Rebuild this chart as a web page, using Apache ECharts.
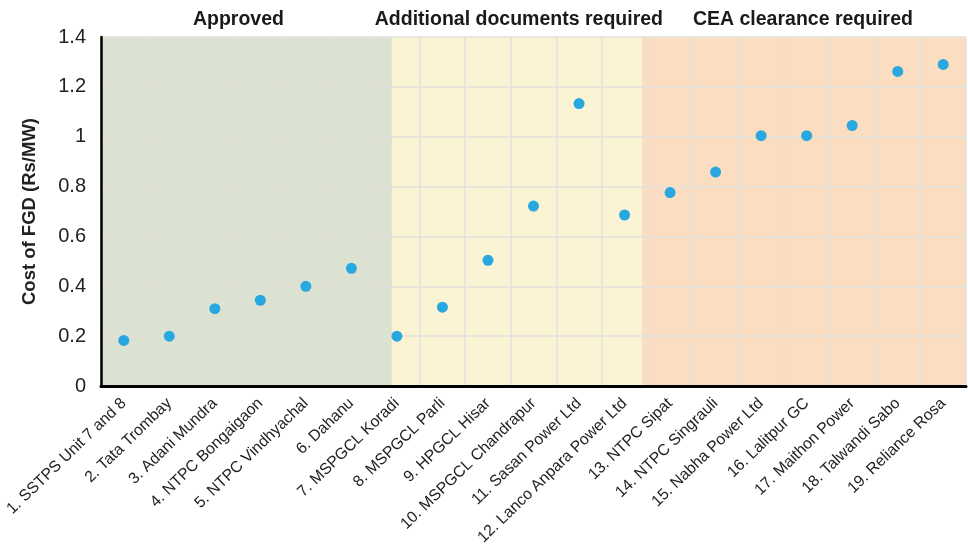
<!DOCTYPE html>
<html>
<head>
<meta charset="utf-8">
<script src="https://cdn.jsdelivr.net/npm/echarts@6/dist/echarts.min.js"></script>
<style>html,body{margin:0;padding:0;background:#fff}#c{width:968px;height:558px}</style>
</head>
<body>
<div id="c"></div>
<script>
const categories = ['1. SSTPS Unit 7 and 8','2. Tata Trombay','3. Adani Mundra','4. NTPC Bongaigaon','5. NTPC Vindhyachal','6. Dahanu','7. MSPGCL Koradi','8. MSPGCL Parli','9. HPGCL Hisar','10. MSPGCL Chandrapur','11. Sasan Power Ltd','12. Lanco Anpara Power Ltd','13. NTPC Sipat','14. NTPC Singrauli','15. Nabha Power Ltd','16. Lalitpur GC','17. Maithon Power','18. Talwandi Sabo','19. Reliance Rosa'];
const costValues = [0.183,0.2,0.31,0.344,0.4,0.472,0.2,0.316,0.504,0.722,1.133,0.686,0.776,0.858,1.004,1.004,1.045,1.262,1.29];
const regionNames = ['Approved','Additional documents required','CEA clearance required'];
const regionStarts = [0, 6.39, 11.88];
const regionEnds = [6.39, 11.88, 19];
const regionColors = ['#DCE2D2','#FAF4D5','#FBDDC1'];
const regionLabelOffsets = [-8, 2, -1];

const chart = echarts.init(document.getElementById('c'), null, {renderer:'canvas'});
const font = 'Liberation Sans, Arial, sans-serif';
chart.setOption({
  animation: false,
  grid: {left: 101, right: 2, top: 37, bottom: 172, containLabel: false},
  xAxis: [{
    type: 'category', data: categories, boundaryGap: true, z: 3,
    axisLine: {show: true, lineStyle: {color: '#000', width: 3}},
    axisTick: {show: false},
    axisLabel: {rotate: 44, fontSize: 15.8, color: '#222', fontFamily: font, margin: 15, interval: 0},
    splitLine: {show: true, lineStyle: {color: '#E3E0DB', width: 1.5}}
  }, {
    type: 'value', min: 0, max: 19, show: false,
    splitLine: {show: false}
  }],
  yAxis: {
    type: 'value', min: 0, max: 1.4, interval: 0.2, z: 3,
    name: 'Cost of FGD (Rs/MW)', nameLocation: 'middle', nameGap: 62, nameRotate: 90,
    nameTextStyle: {fontSize: 18.5, fontWeight: 'bold', color: '#222', fontFamily: font},
    axisLine: {show: true, lineStyle: {color: '#000', width: 2.5}},
    axisTick: {show: false},
    axisLabel: {fontSize: 20, color: '#222', fontFamily: font, margin: 15,
      formatter: v => String(Math.round(v*10)/10)},
    splitLine: {show: true, lineStyle: {color: '#E3E0DB', width: 1.5}}
  },
  series: [{
    type: 'scatter', xAxisIndex: 1, data: [], z: 1, silent: true,
    markArea: {
      silent: true,
      data: regionNames.map((n, i) => [
        {xAxis: regionStarts[i], name: n,
         itemStyle: {color: regionColors[i]},
         label: {show: true, position: 'top', distance: 7, offset: [regionLabelOffsets[i], 0],
           fontSize: 19.5, fontWeight: 'bold', color: '#1a1a1a', fontFamily: font}},
        {xAxis: regionEnds[i]}
      ])
    }
  }, {
    type: 'scatter', data: costValues, symbolSize: 11,
    itemStyle: {color: '#29A8E0', opacity: 1}, z: 5
  }]
});
</script>
</body>
</html>
